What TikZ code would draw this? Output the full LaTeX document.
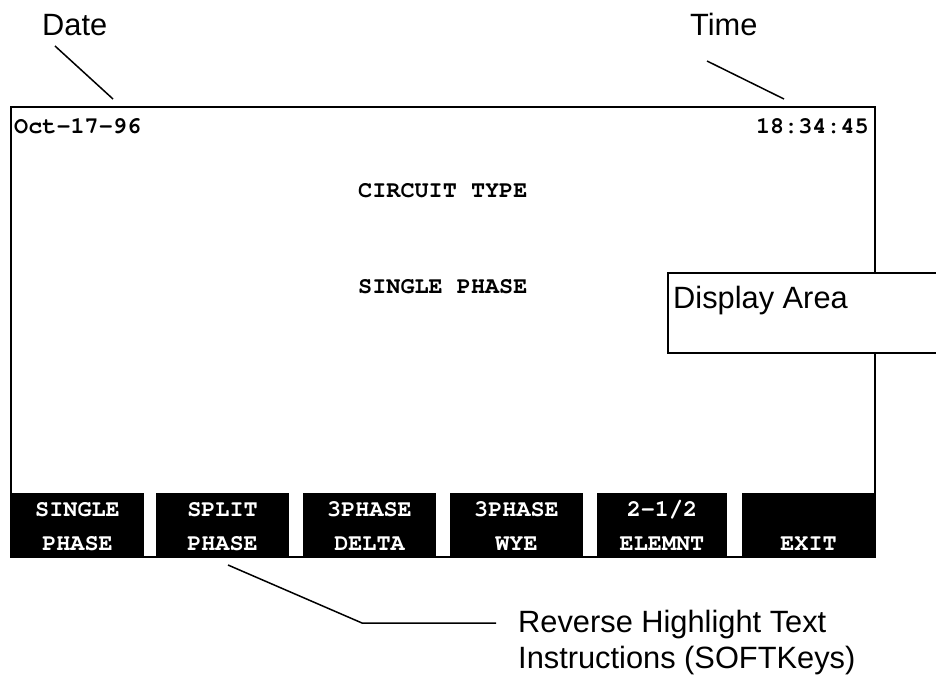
\documentclass[tikz,border=0pt]{standalone}
\usepackage{fontspec}
\setmainfont{Liberation Sans}
\newfontfamily\crfont{TeX Gyre Cursor}
\begin{document}
\begin{tikzpicture}[x=1pt,y=-1pt,
  lbl/.style={inner sep=0pt, anchor=base west, font=\fontsize{30.8}{36}\selectfont},
  scr/.style={inner sep=0pt, anchor=base west, font=\crfont\bfseries\fontsize{23.5}{28}\selectfont},
  keytxt/.style={inner sep=0pt, anchor=base, text=white, font=\crfont\bfseries\fontsize{23.5}{28}\selectfont},
  keybox/.style={fill=black, inner sep=0pt, minimum height=65pt},
  frame/.style={line width=2pt},
  conn/.style={line width=1.5pt}]
\clip (0,0) rectangle (936,675);
% screen frame
\draw[frame] (11,107) rectangle (875,557);
% soft keys
\node[keybox, minimum width=133pt] (k1) at (77.5,525.5) {};
\node[keybox, minimum width=133pt] (k2) at (222.5,525.5) {};
\node[keybox, minimum width=133pt] (k3) at (369.5,525.5) {};
\node[keybox, minimum width=133pt] (k4) at (516.5,525.5) {};
\node[keybox, minimum width=130pt] (k5) at (662,525.5) {};
\node[keybox, minimum width=133pt] (k6) at (808.5,525.5) {};
\node[keytxt] (t1a) at (77.5,516) {SINGLE};
\node[keytxt] (t1b) at (77.5,550) {PHASE};
\node[keytxt] (t2a) at (222.5,516) {SPLIT};
\node[keytxt] (t2b) at (222.5,550) {PHASE};
\node[keytxt] (t3a) at (369.5,516) {3PHASE};
\node[keytxt] (t3b) at (369.5,550) {DELTA};
\node[keytxt] (t4a) at (516.5,516) {3PHASE};
\node[keytxt] (t4b) at (516.5,550) {WYE};
\node[keytxt] (t5a) at (662,516) {2-1/2};
\node[keytxt] (t5b) at (662,550) {ELEMNT};
\node[keytxt] (t6b) at (808.5,550) {EXIT};
% screen texts
\node[scr] (date) at (14,133) {Oct-17-96};
\node[scr, anchor=base east] (time) at (869,133) {18:34:45};
\node[scr] (ctype) at (358,197) {CIRCUIT TYPE};
\node[scr] (cval) at (358,293) {SINGLE PHASE};
% display area callout
\draw[frame, fill=white] (668,273) rectangle (950,353);
\node[lbl] (disp) at (673,308) {Display Area};
% labels
\node[lbl] (datelbl) at (42,35) {Date};
\node[lbl] (timelbl) at (690,35) {Time};
\node[lbl] (softlbl) at (518,632) {Reverse Highlight Text};
\node[lbl] (softlbl2) at (518,668) {Instructions (SOFTKeys)};
% connectors
\coordinate (dA) at (55,46);
\coordinate (dB) at (113,99);
\coordinate (tA) at (707,61);
\coordinate (tB) at (784,99);
\coordinate (sA) at (228,565);
\coordinate (sB) at (362,623);
\coordinate (sC) at (496,623);
\draw[conn] (dA) -- (dB);
\draw[conn] (tA) -- (tB);
\draw[conn] (sA) -- (sB) -- (sC);
\end{tikzpicture}
\end{document}
